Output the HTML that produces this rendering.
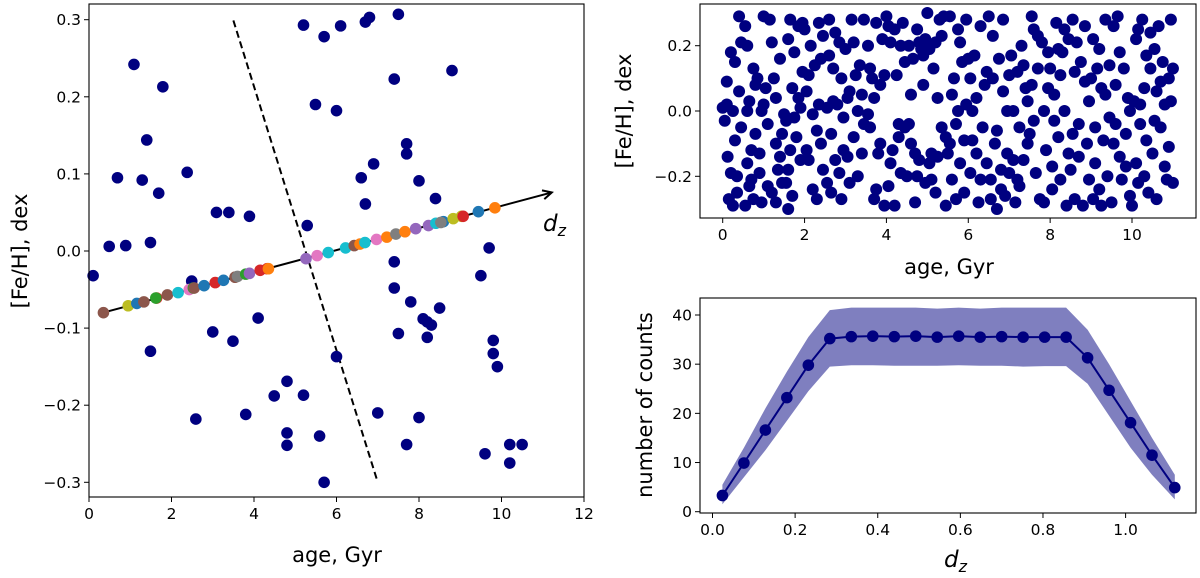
<!DOCTYPE html>
<html><head><meta charset="utf-8">
<style>
html,body{margin:0;padding:0;background:#fff;}
svg{display:block;font-family:"DejaVu Sans","Liberation Sans",sans-serif;}
</style></head>
<body>
<svg id="fig" width="1200" height="578" viewBox="0 0 1200 578" xmlns="http://www.w3.org/2000/svg">
<g id="left"></g>
<g id="tr"></g>
<g id="br"></g>
</svg>
<script>
// ---------- LEFT PANEL DATA ----------
const leftAges = [0.1,0.49,0.89,0.69,1.09,1.29,1.40,1.49,1.69,1.79,1.49,2.38,2.49,2.59,3.0,3.09,3.39,3.49,3.80,3.89,4.10,4.49,4.80,4.80,4.80,5.20,5.29,5.20,5.49,5.70,5.59,5.70,6.0,6.10,6.0,6.70,6.80,6.60,6.70,6.90,7.0,7.40,7.50,7.70,7.70,7.40,7.40,7.50,7.70,7.80,8.0,8.0,8.10,8.20,8.30,8.20,8.40,8.50,8.80,9.50,9.70,9.80,9.80,9.90,9.60,10.2,10.5,10.2];
const leftFeh = [-0.032,0.006,0.007,0.095,0.242,0.092,0.144,0.011,0.075,0.213,-0.130,0.102,-0.039,-0.218,-0.105,0.050,0.050,-0.117,-0.212,0.045,-0.087,-0.188,-0.169,-0.236,-0.252,0.293,0.033,-0.187,0.190,0.278,-0.240,-0.300,0.182,0.292,-0.137,0.297,0.303,0.095,0.061,0.113,-0.210,0.223,0.307,0.139,0.126,-0.014,-0.048,-0.107,-0.251,-0.066,0.091,-0.216,-0.088,-0.092,-0.096,-0.112,0.068,-0.074,0.234,-0.032,0.004,-0.116,-0.133,-0.150,-0.263,-0.251,-0.251,-0.275];
const projAges = [0.35,0.95,1.16,1.33,1.64,1.62,1.90,2.16,2.43,2.53,2.55,2.79,3.06,3.26,3.54,3.60,3.80,3.89,4.15,4.32,4.35,5.26,5.53,5.80,6.22,6.43,6.57,6.69,6.97,7.22,7.44,7.66,7.92,8.23,8.41,8.59,8.53,8.83,9.03,9.07,9.44,9.84];
const projFeh = [-0.080,-0.071,-0.068,-0.066,-0.061,-0.061,-0.057,-0.054,-0.050,-0.048,-0.048,-0.045,-0.041,-0.038,-0.034,-0.033,-0.030,-0.029,-0.025,-0.023,-0.023,-0.010,-0.006,-0.002,0.004,0.007,0.009,0.011,0.015,0.018,0.022,0.025,0.029,0.033,0.036,0.038,0.037,0.042,0.045,0.045,0.051,0.056];
const projColors = ["#8c564b","#bcbd22","#1f77b4","#8c564b","#d62728","#2ca02c","#8c564b","#17becf","#e377c2","#2ca02c","#8c564b","#1f77b4","#d62728","#1f77b4","#8c564b","#7f7f7f","#2ca02c","#9467bd","#d62728","#d62728","#ff7f0e","#9467bd","#e377c2","#17becf","#17becf","#8c564b","#ff7f0e","#17becf","#e377c2","#ff7f0e","#7f7f7f","#ff7f0e","#9467bd","#9467bd","#17becf","#1f77b4","#7f7f7f","#bcbd22","#bcbd22","#d62728","#1f77b4","#ff7f0e"];
const leftXTicks = [0,2,4,6,8,10,12];
const leftYTicks = [0.3,0.2,0.1,0.0,-0.1,-0.2,-0.3];
const arrowLine = [[0.27,-0.081],[11.22,0.076]];
const dashLine = [[3.5,0.299],[7.0,-0.300]];

// ---------- TOP RIGHT DATA ----------
const trPoints = [[0.0,0.01],[0.05,-0.03],[0.1,0.09],[0.12,-0.14],[0.2,-0.19],[0.15,-0.27],[0.25,-0.29],[0.3,0.15],[0.35,-0.2],[0.4,0.29],[0.45,0.21],[0.4,0.06],[0.3,-0.09],[0.45,-0.05],[0.2,0.18],[0.35,-0.25],[0.1,0.02],[0.25,0.0],
[0.55,0.26],[0.6,0.2],[0.6,-0.16],[0.65,0.03],[0.7,-0.12],[0.75,0.13],[0.8,-0.07],[0.85,0.1],[0.7,-0.21],[0.9,-0.19],[0.95,-0.28],[0.55,-0.29],[0.8,0.08],[0.95,0.0],[0.65,-0.23],[0.9,-0.13],[0.75,-0.27],[0.6,0.0],
[1.0,0.29],[1.05,0.07],[1.1,-0.04],[1.15,0.28],[1.2,0.21],[1.25,0.1],[1.3,-0.1],[1.3,0.04],[1.35,-0.18],[1.4,0.16],[1.45,-0.07],[1.4,-0.14],[1.2,-0.25],[1.1,-0.23],[1.3,-0.28],[1.45,-0.22],[1.0,0.02],[1.5,-0.01],
[1.55,-0.03],[1.6,0.22],[1.65,-0.12],[1.7,0.07],[1.75,0.18],[1.8,-0.08],[1.85,0.26],[1.9,0.01],[1.95,0.12],[1.6,-0.3],[1.55,-0.22],[1.7,-0.26],[1.85,0.04],[1.75,-0.02],[1.95,0.27],[1.6,-0.18],[1.9,-0.15],[1.65,0.28],
[2.0,0.25],[2.05,0.06],[2.1,-0.15],[2.15,0.2],[2.2,-0.24],[2.25,0.14],[2.3,-0.27],[2.35,0.02],[2.4,-0.1],[2.45,0.23],[2.3,-0.06],[2.1,0.11],[2.2,-0.01],[2.4,0.16],[2.45,-0.18],[2.05,-0.12],[2.35,0.27],
[2.55,-0.22],[2.6,0.28],[2.65,-0.07],[2.7,0.13],[2.75,-0.15],[2.8,0.02],[2.85,0.21],[2.9,-0.27],[2.95,-0.02],[2.6,0.17],[2.7,0.03],[2.9,0.1],[2.85,-0.19],[2.55,0.01],[2.95,-0.12],[2.75,0.24],[2.65,-0.25],
[3.0,0.19],[3.05,-0.14],[3.1,0.06],[3.15,0.28],[3.2,-0.08],[3.25,0.11],[3.3,-0.2],[3.35,0.14],[3.4,0.05],[3.45,0.28],[3.2,0.21],[3.1,-0.22],[3.4,-0.13],[3.3,0.0],[3.45,-0.04],[3.05,0.04],
[3.55,0.2],[3.6,-0.05],[3.65,0.1],[3.7,-0.27],[3.75,0.27],[3.8,-0.13],[3.85,0.08],[3.9,0.22],[3.95,-0.29],[3.7,0.04],[3.6,0.13],[3.85,-0.1],[3.95,0.11],[3.75,-0.24],[3.55,-0.01],
[4.0,0.29],[4.05,-0.23],[4.1,0.21],[4.15,-0.12],[4.2,0.25],[4.25,0.11],[4.3,-0.04],[4.35,-0.19],[4.4,0.27],[4.45,-0.05],[4.1,-0.16],[4.2,-0.29],[4.35,0.2],[4.45,0.15],[4.3,-0.08],[4.05,0.26],
[4.5,-0.2],[4.55,0.2],[4.6,-0.1],[4.65,0.16],[4.7,-0.28],[4.75,0.25],[4.8,-0.15],[4.85,0.19],[4.9,0.08],[4.95,-0.22],[4.6,0.05],[4.8,0.21],[4.7,-0.13],[4.9,0.17],[4.55,-0.04],[4.95,0.22],[4.75,-0.2],
[5.0,0.3],[5.05,0.19],[5.1,-0.13],[5.15,0.13],[5.2,-0.25],[5.25,0.04],[5.3,0.28],[5.35,-0.05],[5.4,0.29],[5.45,-0.29],[5.1,-0.21],[5.25,-0.14],[5.35,0.23],[5.45,-0.08],[5.2,0.21],[5.05,-0.16],
[5.5,-0.13],[5.55,0.29],[5.6,-0.21],[5.65,0.1],[5.7,-0.04],[5.75,0.25],[5.8,-0.16],[5.85,0.15],[5.9,-0.25],[5.95,0.02],[5.6,0.05],[5.7,-0.27],[5.8,0.21],[5.9,-0.09],[5.95,0.28],[5.55,-0.1],[5.75,0.0],
[6.0,0.16],[6.05,-0.19],[6.1,0.0],[6.15,0.17],[6.2,-0.13],[6.25,-0.28],[6.3,0.26],[6.35,-0.05],[6.4,0.08],[6.45,-0.16],[6.5,0.29],[6.1,-0.09],[6.2,0.04],[6.3,-0.21],[6.45,0.12],[6.05,0.1],
[6.55,-0.21],[6.6,0.23],[6.65,-0.1],[6.7,-0.3],[6.75,0.16],[6.8,-0.18],[6.85,0.06],[6.9,-0.26],[6.95,-0.13],[6.6,0.1],[6.7,-0.06],[6.85,0.28],[6.95,0.0],[6.55,-0.27],[6.8,-0.24],
[7.0,-0.19],[7.05,0.17],[7.1,0.0],[7.15,-0.28],[7.2,0.12],[7.25,-0.23],[7.3,0.2],[7.35,-0.15],[7.4,0.07],[7.45,-0.1],[7.1,-0.15],[7.2,-0.21],[7.35,0.14],[7.45,0.03],[7.0,0.11],[7.25,-0.05],
[7.5,-0.07],[7.55,0.29],[7.6,0.25],[7.65,-0.19],[7.7,0.13],[7.75,-0.27],[7.8,0.21],[7.85,0.0],[7.9,-0.12],[7.95,0.18],[7.6,-0.03],[7.7,0.23],[7.85,-0.28],[7.95,0.07],[7.55,0.08],
[8.0,0.13],[8.05,-0.17],[8.1,0.05],[8.15,0.27],[8.2,-0.08],[8.25,-0.21],[8.3,0.18],[8.35,0.25],[8.4,-0.29],[8.45,-0.13],[8.1,-0.03],[8.25,0.11],[8.35,0.0],[8.45,0.22],[8.05,-0.24],[8.2,0.19],
[8.5,-0.18],[8.55,0.28],[8.6,-0.27],[8.65,0.21],[8.7,-0.04],[8.75,0.15],[8.8,-0.29],[8.85,0.09],[8.9,-0.1],[8.95,0.03],[8.6,0.12],[8.7,-0.14],[8.85,0.26],[8.95,-0.21],[8.55,-0.07],
[9.0,0.1],[9.05,0.22],[9.1,-0.05],[9.15,0.13],[9.2,-0.24],[9.25,0.07],[9.3,-0.09],[9.35,0.28],[9.4,-0.2],[9.45,0.14],[9.1,-0.16],[9.25,-0.29],[9.35,0.05],[9.45,-0.02],[9.05,-0.27],[9.2,0.19],
[9.5,-0.28],[9.55,0.26],[9.6,-0.04],[9.65,0.29],[9.7,-0.14],[9.75,-0.21],[9.8,0.13],[9.85,-0.07],[9.9,0.04],[9.95,-0.26],[9.6,0.08],[9.7,0.18],[9.85,-0.17],[9.95,0.0],[9.55,-0.1],
[10.0,-0.29],[10.05,0.03],[10.1,-0.16],[10.15,0.25],[10.2,-0.04],[10.25,0.28],[10.3,-0.2],[10.35,0.17],[10.4,-0.25],[10.45,0.13],[10.1,0.22],[10.2,0.02],[10.35,-0.09],[10.45,0.24],[10.15,-0.22],[10.3,0.07],
[10.5,-0.13],[10.55,0.19],[10.6,-0.27],[10.65,0.26],[10.7,-0.05],[10.75,0.15],[10.8,0.02],[10.85,-0.21],[10.9,0.1],[10.95,0.03],[11.0,-0.22],[11.0,0.13],[10.6,0.06],[10.8,-0.17],[10.95,0.28],[10.7,0.09],[10.9,-0.11],[10.55,-0.03]];
const trXTicks = [0,2,4,6,8,10];
const trYTicks = [0.2,0.0,-0.2];

// ---------- BOTTOM RIGHT DATA ----------
const dzValues = [0.024,0.076,0.128,0.180,0.232,0.284,0.336,0.388,0.440,0.492,0.544,0.596,0.648,0.700,0.752,0.804,0.856,0.908,0.960,1.012,1.064,1.119];
const countValues = [3.3,9.9,16.6,23.2,29.8,35.2,35.6,35.7,35.6,35.7,35.5,35.7,35.5,35.6,35.5,35.5,35.5,31.3,24.7,18.1,11.5,4.9];
const upperValues = [5.5,13,21,28.5,35.5,41,41.5,41.5,41.5,41.5,41.3,41.5,41.3,41.5,41.5,41.5,41.5,37,30,22.5,15,7.5];
const lowerValues = [1.5,7,12.5,18.5,24.5,29.5,29.8,29.8,29.7,29.7,29.7,29.8,29.7,29.7,29.5,29.6,29.6,26,19.5,13,7.5,2.5];
const brXTicks = [0.0,0.2,0.4,0.6,0.8,1.0];
const brYTicks = [0,10,20,30,40];

// ---------- helpers ----------
const NS = "http://www.w3.org/2000/svg";
function mk(parent, tag, attrs, text){
  const e = document.createElementNS(NS, tag);
  for (const k in attrs) e.setAttribute(k, attrs[k]);
  if (text !== undefined) e.textContent = text;
  parent.appendChild(e);
  return e;
}
function scale(d0,d1,r0,r1){ return v => r0 + (v-d0)*(r1-r0)/(d1-d0); }
function fmt(v,dec){ const s = v.toFixed(dec); return (v < 0 ? "\u2212" + s.slice(1) : s); }

function frame(g, x0,y0,x1,y1, name){
  const r = mk(g,"rect",{x:x0,y:y0,width:x1-x0,height:y1-y0,fill:"none",stroke:"#000","stroke-width":1.1});
  
  
}
function xTicks(g, ticks, sx, yAxis, dec, name){
  ticks.forEach(t=>{
    const x = sx(t);
    const l = mk(g,"line",{x1:x,x2:x,y1:yAxis,y2:yAxis+5,stroke:"#000","stroke-width":1});
    
    
    const tx = mk(g,"text",{x:x,y:yAxis+22,"text-anchor":"middle","font-size":15.5,fill:"#000"}, fmt(t,dec));
    
    
  });
}
function yTicks(g, ticks, sy, xAxis, dec, name){
  ticks.forEach(t=>{
    const y = sy(t);
    const l = mk(g,"line",{x1:xAxis-5,x2:xAxis,y1:y,y2:y,stroke:"#000","stroke-width":1});
    
    
    const tx = mk(g,"text",{x:xAxis-8,y:y+5.5,"text-anchor":"end","font-size":15.5,fill:"#000"}, fmt(t,dec));
    
    
  });
}

// ---------- LEFT ----------
(function(){
  const g = document.getElementById("left");
  const sx = scale(0,12,89,584);
  const sy = scale(0,0.3,251,19.7);
  const d = mk(g,"line",{x1:sx(dashLine[0][0]),y1:sy(dashLine[0][1]),x2:sx(dashLine[1][0]),y2:sy(dashLine[1][1]),stroke:"#000","stroke-width":2,"stroke-dasharray":"7,4"});
  
  
  leftAges.forEach((a,i)=>{
    const c = mk(g,"circle",{cx:sx(a),cy:sy(leftFeh[i]),r:5.8,fill:"#000080"});
    
    
  });
  const x1=sx(arrowLine[0][0]), y1=sy(arrowLine[0][1]), x2=sx(arrowLine[1][0]), y2=sy(arrowLine[1][1]);
  const al = mk(g,"line",{x1:x1,y1:y1,x2:x2,y2:y2,stroke:"#000","stroke-width":2});
  
  
  const ang = Math.atan2(y2-y1,x2-x1);
  const hx = (dx,dy)=> (x2 + dx*Math.cos(ang) - dy*Math.sin(ang)).toFixed(1)+","+(y2 + dx*Math.sin(ang) + dy*Math.cos(ang)).toFixed(1);
  const ah = mk(g,"path",{d:"M"+hx(-9,-4.5)+" L"+hx(0,0)+" L"+hx(-9,4.5),fill:"none",stroke:"#000","stroke-width":2});
  
  
  projAges.forEach((a,i)=>{
    const c = mk(g,"circle",{cx:sx(a),cy:sy(projFeh[i]),r:5.8,fill:projColors[i]});
    
    
  });
  const lbl = mk(g,"text",{x:543,y:231,"font-size":23,"font-style":"italic",fill:"#000"});
  
  
  mk(lbl,"tspan",{},"d");
  mk(lbl,"tspan",{dy:5,"font-size":16},"z");
  frame(g,89,4,584,497,'left-axes-frame');
  xTicks(g,leftXTicks,sx,497,0,'left-x');
  yTicks(g,leftYTicks,sy,89,1,'left-y');
  const xl = mk(g,"text",{x:337,y:562,"text-anchor":"middle","font-size":21,fill:"#000"},"age, Gyr");
  
  
  const yl = mk(g,"text",{x:0,y:0,"text-anchor":"middle","font-size":21,fill:"#000",transform:"translate(27,251) rotate(-90)"},"[Fe/H], dex");
  
  
})();

// ---------- TOP RIGHT ----------
(function(){
  const g = document.getElementById("tr");
  const sx = scale(0,10,722.7,1132);
  const sy = scale(0,0.2,111,45.7);
  trPoints.forEach(p=>{
    const c = mk(g,"circle",{cx:sx(p[0]),cy:sy(p[1]),r:6,fill:"#000080"});
    
    
  });
  frame(g,700,4,1196,218,'top-right-axes-frame');
  xTicks(g,trXTicks,sx,218,0,'top-right-x');
  yTicks(g,trYTicks,sy,700,1,'top-right-y');
  const xl = mk(g,"text",{x:949,y:274,"text-anchor":"middle","font-size":21,fill:"#000"},"age, Gyr");
  
  
  const yl = mk(g,"text",{x:0,y:0,"text-anchor":"middle","font-size":21,fill:"#000",transform:"translate(631,111) rotate(-90)"},"[Fe/H], dex");
  
  
})();

// ---------- BOTTOM RIGHT ----------
(function(){
  const g = document.getElementById("br");
  const sx = scale(0,1,712.5,1125.6);
  const sy = scale(0,40,511.7,315);
  let dpath = "";
  dzValues.forEach((v,i)=>{ dpath += (i?"L":"M")+sx(v).toFixed(1)+","+sy(upperValues[i]).toFixed(1); });
  for (let i=dzValues.length-1;i>=0;i--) dpath += "L"+sx(dzValues[i]).toFixed(1)+","+sy(lowerValues[i]).toFixed(1);
  const band = mk(g,"path",{d:dpath+"Z",fill:"#000080","fill-opacity":0.5});
  
  
  const pts = dzValues.map((v,i)=>sx(v).toFixed(1)+","+sy(countValues[i]).toFixed(1)).join(" ");
  const ln = mk(g,"polyline",{points:pts,fill:"none",stroke:"#000080","stroke-width":2});
  
  
  dzValues.forEach((v,i)=>{
    const c = mk(g,"circle",{cx:sx(v),cy:sy(countValues[i]),r:5.8,fill:"#000080"});
    
    
  });
  frame(g,700,298,1196,513,'bottom-right-axes-frame');
  xTicks(g,brXTicks,sx,513,1,'bottom-right-x');
  yTicks(g,brYTicks,sy,700,0,'bottom-right-y');
  const xl = mk(g,"text",{x:944,y:567,"font-size":23,"font-style":"italic",fill:"#000"});
  
  
  mk(xl,"tspan",{},"d");
  mk(xl,"tspan",{dy:5,"font-size":16},"z");
  const yl = mk(g,"text",{x:0,y:0,"text-anchor":"middle","font-size":21,fill:"#000",transform:"translate(652,405) rotate(-90)"},"number of counts");
  
  
})();
</script>
</body></html>
